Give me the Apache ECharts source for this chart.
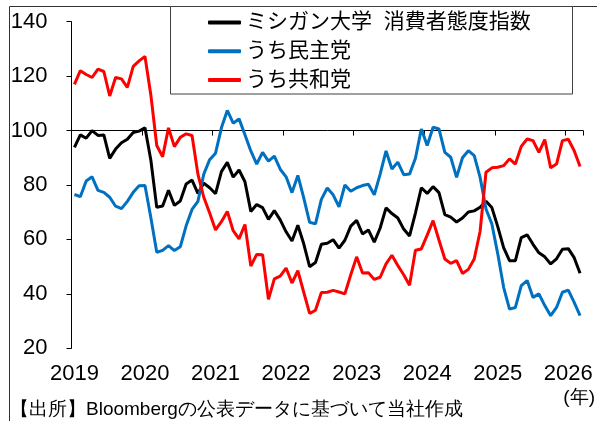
<!DOCTYPE html>
<html><head><meta charset="utf-8">
<script src="https://cdn.jsdelivr.net/npm/echarts@6/dist/echarts.min.js"></script>
<style>html,body{margin:0;padding:0;background:#fff}#c{width:597px;height:421px}</style>
</head><body><div id="c"></div>
<script>
// ---- data ----
const startYear = 2019;
const monthCount = 87;
const yearLabels = ['2019','2020','2021','2022','2023','2024','2025','2026'];
const seriesNames = ['ミシガン大学  消費者態度指数', 'うち民主党', 'うち共和党'];
const overall = [
  93.8, 98.4, 97.2, 100.0, 98.2, 98.4, 89.8, 93.2, 95.5, 96.8, 99.3, 99.8,
  101.0, 89.1, 71.8, 72.3, 78.1, 72.5, 74.1, 80.4, 81.8, 76.9, 80.7, 79.0,
  76.8, 84.9, 88.3, 82.9, 85.5, 81.2, 70.3, 72.8, 71.7, 67.4, 70.6, 67.2,
  62.8, 59.4, 65.2, 58.4, 50.0, 51.5, 58.2, 58.6, 59.9, 56.8, 59.7, 64.9,
  67.0, 62.0, 63.5, 59.0, 64.2, 71.6, 69.5, 67.9, 63.8, 61.3, 69.7, 79.0,
  76.9, 79.4, 77.2, 69.1, 68.2, 66.4, 67.9, 70.1, 70.5, 71.8, 74.0, 71.7,
  64.7, 57.0, 52.2, 52.2, 60.7, 61.7, 58.2, 55.1, 53.6, 51.0, 52.9, 56.4,
  56.6, 53.3, 47.6
];
const democrats = [
  76.5, 75.7, 81.5, 83.0, 78.0, 77.3, 75.5, 72.2, 71.3, 74.0, 77.3, 79.7,
  79.8, 68.0, 55.3, 56.0, 57.7, 55.9, 57.3, 65.0, 71.0, 74.0, 84.0, 89.3,
  91.7, 101.0, 107.4, 102.7, 104.3, 98.5, 92.5, 87.7, 92.0, 88.8, 90.6, 85.8,
  83.0, 77.2, 83.5, 75.3, 66.3, 65.7, 74.7, 78.9, 76.4, 72.0, 80.0, 77.7,
  79.0, 79.8, 80.3, 76.4, 84.0, 92.5, 85.9, 88.4, 83.8, 84.0, 89.8, 100.6,
  94.5, 101.2, 100.6, 92.0, 90.2, 82.8, 90.0, 92.6, 90.8, 82.8, 71.2, 65.7,
  54.7, 42.4, 34.4, 35.0, 43.0, 44.9, 38.7, 40.0, 35.7, 32.0, 35.0, 40.6,
  41.4, 36.9, 32.0
];
const republicans = [
  117.0, 122.0, 120.6, 119.5, 122.6, 121.7, 112.7, 119.5, 119.0, 115.9, 123.6, 125.6,
  127.2, 113.0, 94.5, 90.4, 101.0, 94.1, 97.5, 98.8, 98.2, 84.0, 75.5, 69.7,
  63.5, 66.5, 70.3, 63.2, 60.2, 65.5, 50.2, 54.5, 54.4, 38.0, 45.5, 46.5,
  49.5, 44.0, 48.5, 40.6, 32.8, 34.0, 40.5, 40.6, 41.3, 40.7, 40.0, 47.0,
  53.6, 47.7, 47.8, 45.3, 46.1, 51.0, 54.2, 50.4, 47.0, 43.2, 56.0, 56.5,
  61.6, 66.9, 59.8, 52.8, 51.2, 52.2, 47.5, 49.0, 52.8, 63.0, 84.7, 86.3,
  86.5, 87.1, 89.6, 87.7, 94.2, 96.9, 96.3, 92.0, 96.7, 86.3, 87.7, 96.3,
  96.8, 92.6, 86.8
];
const yMin = 20, yMax = 140, yStep = 20, refLine = 100;
const unitLabel = '(年)';
const sourceText = '【出所】Bloombergの公表データに基づいて当社作成';

// ---- build ----
const categories = [];
for (let i = 0; i < monthCount; i++) {
  categories.push(String(startYear + Math.floor(i / 12)) + '-' + String(i % 12 + 1).padStart(2, '0'));
}
const FONT = "'Liberation Sans', Arial, 'Noto Sans CJK JP', sans-serif";
const JFONT = "'Liberation Sans', 'Noto Sans CJK JP', sans-serif";
const yearIdx = (i) => i % 12 === 0;

const chart = echarts.init(document.getElementById('c'));
const option = {
  animation: false,
  backgroundColor: '#fff',
  grid: { left: 71.5, right: 14, top: 21.7, bottom: 72.7 },
  xAxis: [
    {
      type: 'category', data: categories, boundaryGap: true,
      axisLine: { show: false }, axisTick: { show: false },
      axisLabel: {
        interval: yearIdx, margin: 15, fontSize: 22, color: '#000', fontFamily: FONT,
        formatter: (v) => yearLabels[Number(v.slice(0, 4)) - startYear]
      },
      splitLine: { show: false }
    },
    {
      type: 'category', data: categories, boundaryGap: true, position: 'bottom', offset: 0,
      axisLine: { show: true, lineStyle: { color: '#000', width: 1 } },
      axisTick: { show: true, interval: yearIdx, length: 5, lineStyle: { color: '#000', width: 1 } },
      axisLabel: { show: false }, splitLine: { show: false }
    }
  ],
  yAxis: {
    type: 'value', min: yMin, max: yMax, interval: yStep,
    axisLine: { show: true, lineStyle: { color: '#000', width: 1 } },
    axisTick: { show: true, length: 5, lineStyle: { color: '#000' } },
    axisLabel: { fontSize: 22, color: '#000', margin: 24, fontFamily: FONT },
    splitLine: { show: false }
  },
  legend: {
    orient: 'vertical', left: 208, top: 12, padding: 0, itemGap: 7.7,
    itemWidth: 33, itemHeight: 4, icon: 'roundRect',
    textStyle: { fontSize: 21, lineHeight: 21, color: '#000', fontFamily: JFONT },
    data: seriesNames
  },
  graphic: [
    { type: 'line', shape: { x1: 9.5, y1: 6.5, x2: 597, y2: 6.5 }, style: { stroke: '#333', lineWidth: 1 }, z: 0 },
    { type: 'line', shape: { x1: 9.5, y1: 6.5, x2: 9.5, y2: 421 }, style: { stroke: '#333', lineWidth: 1 }, z: 0 },
    { type: 'rect', shape: { x: 170.5, y: 6.5, width: 402, height: 87.5 }, style: { fill: '#fff', stroke: '#404040', lineWidth: 1 }, z: 1 },
    { type: 'text', x: 595, y: 397.5, style: { text: unitLabel, fontSize: 19, fill: '#000', font: '19px ' + JFONT, textAlign: 'right', textVerticalAlign: 'middle' }, z: 5 },
    { type: 'text', x: 10, y: 410, style: { text: sourceText, fontSize: 19, fill: '#000', font: '19px ' + JFONT, textAlign: 'left', textVerticalAlign: 'middle' }, z: 5 }
  ],
  series: [
    { name: seriesNames[0], type: 'line', data: overall, symbol: 'none', lineStyle: { color: '#000000', width: 3 }, itemStyle: { color: '#000000' }, z: 3 },
    { name: seriesNames[1], type: 'line', data: democrats, symbol: 'none', lineStyle: { color: '#0070C0', width: 3 }, itemStyle: { color: '#0070C0' }, z: 4 },
    { name: seriesNames[2], type: 'line', data: republicans, symbol: 'none', lineStyle: { color: '#FF0000', width: 3 }, itemStyle: { color: '#FF0000' }, z: 5 }
  ]
};
chart.setOption(option);
const yRef = chart.convertToPixel({ yAxisIndex: 0 }, refLine);
const yBottom = chart.convertToPixel({ yAxisIndex: 0 }, yMin);
chart.setOption({ xAxis: [{}, { offset: yRef - yBottom }] });
</script>
</body></html>
